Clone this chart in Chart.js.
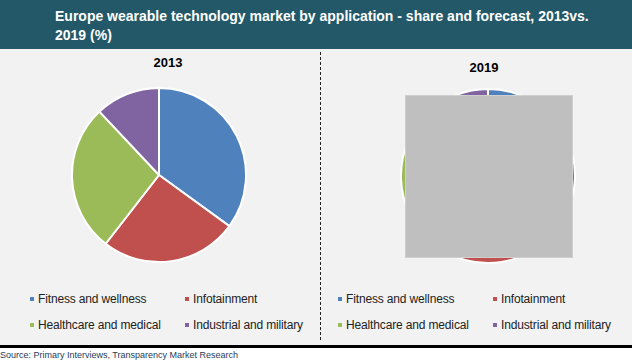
<!DOCTYPE html>
<html>
<head>
<meta charset="utf-8">
<script src="https://cdn.jsdelivr.net/npm/chart.js@4/dist/chart.umd.min.js"></script>
<style>
  html, body { margin: 0; padding: 0; }
  body { width: 632px; height: 363px; position: relative; background: #ffffff; font-family: Arial, "Liberation Sans", sans-serif; overflow: hidden; }
  #header { position: absolute; left: 0; top: 0; width: 632px; height: 49px; background: #235868; }
  #header div { position: absolute; left: 55px; top: 7px; color: #fff; font-weight: bold; font-size: 14px; line-height: 19px; white-space: nowrap; }
  #panel { position: absolute; left: 0; top: 49px; width: 632px; height: 296px; background: #f2f2f2; }
  #rule { position: absolute; left: 0; top: 345px; width: 632px; height: 3px; background: #000; }
  #divider { position: absolute; left: 320px; top: 52px; height: 288px; border-left: 1px dashed #222; }
  .year { position: absolute; font-weight: bold; font-size: 13px; color: #000; width: 80px; text-align: center; }
  .pie { position: absolute; width: 176px; height: 176px; }
  .legend { position: absolute; font-size: 12px; color: #222; letter-spacing: -0.15px; }
  .legend span { position: absolute; white-space: nowrap; }
  .legend i { display: inline-block; width: 4px; height: 4px; margin-right: 4px; vertical-align: 2px; }
  #mask { position: absolute; left: 405px; top: 95px; width: 166px; height: 161px; background: #bfbfbf; border: 1px solid #cfcfcf; }
  #source { position: absolute; left: 0; top: 350px; font-size: 9px; color: #1f3b5a; white-space: nowrap; }
</style>
</head>
<body>
<div id="header"><div>Europe wearable technology market by application - share and forecast, 2013vs.<br>2019 (%)</div></div>
<div id="panel"></div>
<div id="divider"></div>
<div class="year" style="left:128px; top:55px;">2013</div>
<div class="year" style="left:444px; top:60px;">2019</div>
<div class="pie" style="left:71px; top:87px;"><canvas id="pie2013"></canvas></div>
<div class="pie" style="left:400px; top:88px;"><canvas id="pie2019"></canvas></div>
<div id="mask"></div>
<div class="legend" id="legend2013" style="left:0; top:0;"></div>
<div class="legend" id="legend2019" style="left:0; top:0;"></div>
<div id="rule"></div>
<div id="source">Source: Primary Interviews, Transparency Market Research</div>
<script>
// application segments and their shares (%)
const categories = ['Fitness and wellness', 'Infotainment', 'Healthcare and medical', 'Industrial and military'];
const share2013 = [35, 25.5, 27.5, 12];
const share2019 = [34, 27, 27, 12];
const sliceColors = ['#4f81bd', '#c0504d', '#9bbb59', '#8064a2'];

function makePie(canvasId, values) {
  const ctx = document.getElementById(canvasId);
  return new Chart(ctx, {
    type: 'pie',
    data: {
      labels: categories,
      datasets: [{
        data: values,
        backgroundColor: sliceColors,
        borderColor: '#ffffff',
        borderWidth: 2
      }]
    },
    options: {
      responsive: true,
      maintainAspectRatio: false,
      animation: false,
      layout: { padding: 0 },
      plugins: {
        legend: { display: false },
        tooltip: { enabled: false }
      }
    }
  });
}

// 2x2 legend grid under each pie
function makeLegend(id, offsetX) {
  const box = document.getElementById(id);
  const cols = [30, 185];
  const rows = [292, 318];
  categories.forEach((label, i) => {
    const item = document.createElement('span');
    item.style.left = (offsetX + cols[i % 2]) + 'px';
    item.style.top = rows[Math.floor(i / 2)] + 'px';
    item.innerHTML = '<i style="background:' + sliceColors[i] + '"></i>' + label;
    box.appendChild(item);
  });
}

makePie('pie2013', share2013);
makePie('pie2019', share2019);
makeLegend('legend2013', 0);
makeLegend('legend2019', 308);
</script>
</body>
</html>
